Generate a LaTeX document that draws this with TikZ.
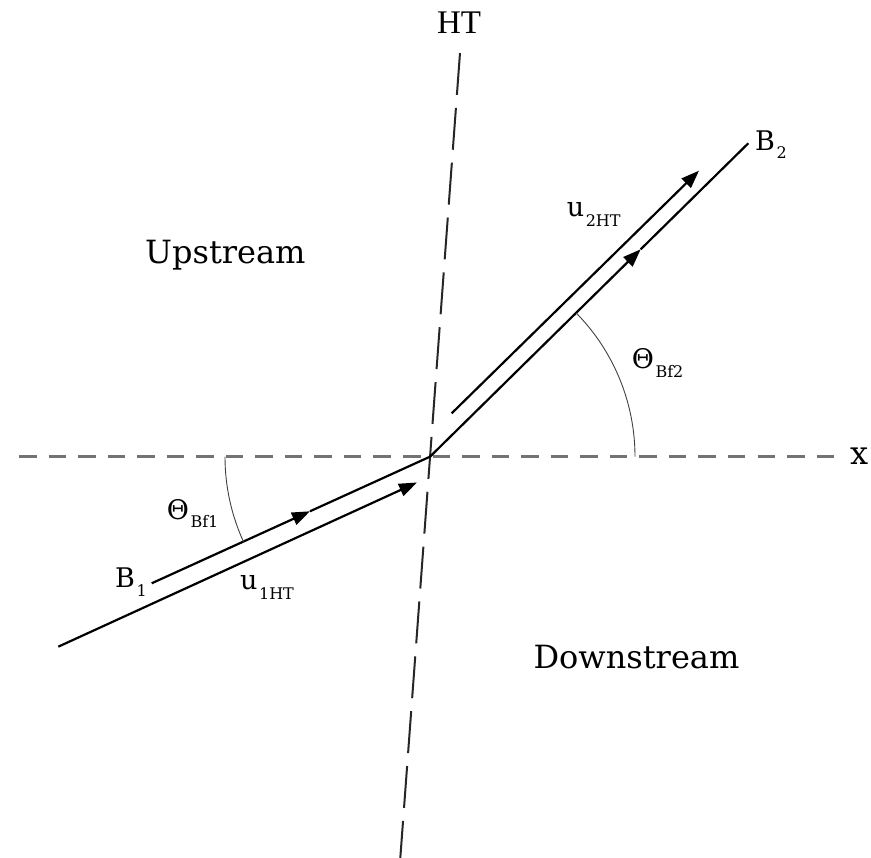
\documentclass[tikz,border=0pt]{standalone}
\usepackage{fontspec}
\setmainfont{DejaVu Serif}
\newfontfamily\htfont{Liberation Serif}
\usetikzlibrary{arrows.meta}
\newcommand\mysub[2]{\raisebox{-#2pt}{\kern1.5pt\fontsize{16}{16}\selectfont #1}}
\tikzset{
  field/.style={line width=2.2pt, black},
  tip/.style={-{Triangle[length=18pt,width=13pt]}},
  xaxis/.style={line width=2.4pt, black!55, dash pattern=on 17.5pt off 12.04pt},
  htline/.style={line width=2pt, black!85, dash pattern=on 42pt off 13pt},
  anglearc/.style={line width=0.9pt, black!75},
  lbl/.style={inner sep=0pt, anchor=base west, font=\fontsize{27}{27}\selectfont},
  region/.style={inner sep=0pt, anchor=base west, font=\fontsize{32}{32}\selectfont}
}
\begin{document}
\begin{tikzpicture}[x=1pt,y=1pt]
\useasboundingbox (0,0) rectangle (871,858);
% key points
\coordinate (O) at (430,401.3);
\coordinate (xl) at (19,401.3);
\coordinate (xr) at (834,401.3);
\coordinate (htT) at (460,805);
\coordinate (htB) at (400.3,0);
\coordinate (B1s) at (151.7,274.7);
\coordinate (B1m) at (310,346.7);
\coordinate (u1s) at (58.3,211.3);
\coordinate (u1e) at (417,375.5);
\coordinate (B2e) at (748.3,714.7);
\coordinate (B2m) at (640.7,608.7);
\coordinate (u2s) at (451.7,444.7);
\coordinate (u2e) at (699,687.3);
% axes
\draw[xaxis] (xl) -- (xr);
\draw[htline] (htT) -- (htB);
% field lines and flow
\draw[field, tip] (B1s) -- (B1m);
\draw[field] (B1m) -- (O);
\draw[field, tip] (u1s) -- (u1e);
\draw[field, tip] (O) -- (B2m);
\draw[field] (B2m) -- (B2e);
\draw[field, tip] (u2s) -- (u2e);
% angle arcs
\draw[anglearc] ([shift={(180:205)}]O) arc[start angle=180, end angle=204.5, radius=205];
\draw[anglearc] ([shift={(0:205)}]O) arc[start angle=0, end angle=44.5, radius=205];
% labels
\node[inner sep=0pt, anchor=base, font=\htfont\fontsize{33}{33}\selectfont] (HT) at (459,824.7) {HT};
\node[region, anchor=base west] (xlab) at (850,393) {x};
\node[region] (up) at (145,594.7) {Upstream};
\node[region] (down) at (533.3,189.7) {Downstream};
\node[lbl] (th1) at (166.7,338) {Θ\mysub{Bf1}{8}};
\node[lbl] (th2) at (631.7,489.7) {Θ\mysub{Bf2}{9.5}};
\node[lbl] (b1) at (115,270) {B\mysub{1}{8.5}};
\node[lbl] (b2) at (755,707) {B\mysub{2}{8}};
\node[lbl] (u1) at (240,268) {u\mysub{1HT}{10}};
\node[lbl] (u2) at (566.7,641.3) {u\mysub{2HT}{10}};
\end{tikzpicture}
\end{document}
